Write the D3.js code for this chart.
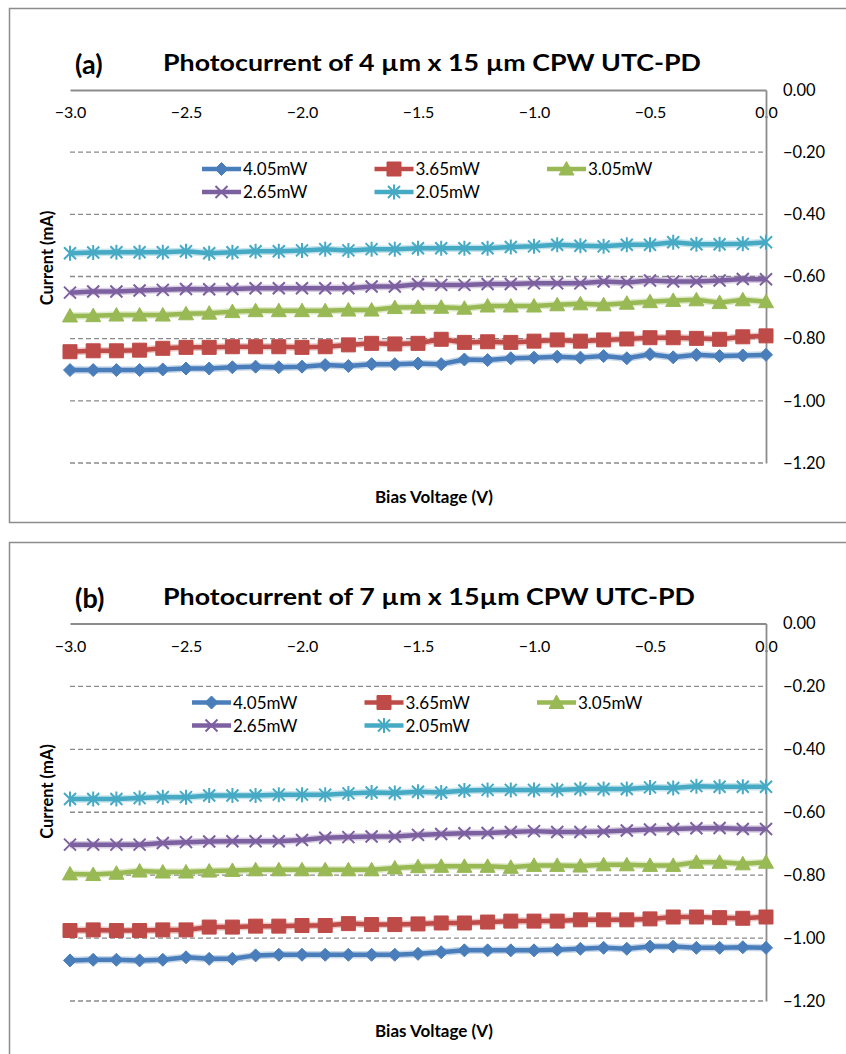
<!DOCTYPE html>
<html>
<head>
<meta charset="utf-8">
<script src="https://cdn.jsdelivr.net/npm/d3@7"></script>
<style>
  html, body { margin: 0; padding: 0; background: #fff; }
  svg { display: block; font-family: Lato, "Open Sans", sans-serif; }
</style>
</head>
<body>
<svg id="chart" width="846" height="1054"></svg>
<script>
// bias voltage steps (V)
const biasV = [-3.0, -2.9, -2.8, -2.7, -2.6, -2.5, -2.4, -2.3, -2.2, -2.1,
  -2.0, -1.9, -1.8, -1.7, -1.6, -1.5, -1.4, -1.3, -1.2, -1.1,
  -1.0, -0.9, -0.8, -0.7, -0.6, -0.5, -0.4, -0.3, -0.2, -0.1, 0.0];

const seriesNames = ["4.05mW", "3.65mW", "3.05mW", "2.65mW", "2.05mW"];
const xTicks = [-3.0, -2.5, -2.0, -1.5, -1.0, -0.5, 0.0];
const yTicks = [0, -0.2, -0.4, -0.6, -0.8, -1.0, -1.2];

// panel (a): 4 um x 15 um
const a405 = [-0.901, -0.901, -0.901, -0.901, -0.899, -0.896, -0.896, -0.892, -0.890, -0.892,
  -0.890, -0.885, -0.888, -0.882, -0.882, -0.880, -0.882, -0.867, -0.869, -0.863,
  -0.861, -0.858, -0.861, -0.856, -0.863, -0.850, -0.860, -0.852, -0.856, -0.854, -0.852];
const a365 = [-0.842, -0.839, -0.839, -0.837, -0.831, -0.828, -0.828, -0.826, -0.826, -0.826,
  -0.828, -0.826, -0.820, -0.815, -0.817, -0.815, -0.802, -0.812, -0.810, -0.812,
  -0.808, -0.804, -0.808, -0.804, -0.801, -0.797, -0.797, -0.799, -0.802, -0.794, -0.791];
const a305 = [-0.727, -0.726, -0.724, -0.724, -0.724, -0.720, -0.718, -0.713, -0.710, -0.710,
  -0.710, -0.710, -0.708, -0.708, -0.700, -0.699, -0.699, -0.702, -0.695, -0.695,
  -0.695, -0.691, -0.688, -0.691, -0.686, -0.681, -0.677, -0.675, -0.684, -0.675, -0.681];
const a265 = [-0.652, -0.648, -0.648, -0.645, -0.643, -0.640, -0.641, -0.640, -0.638, -0.638,
  -0.638, -0.638, -0.638, -0.632, -0.632, -0.625, -0.627, -0.627, -0.624, -0.624,
  -0.622, -0.622, -0.622, -0.616, -0.619, -0.613, -0.616, -0.616, -0.613, -0.608, -0.609];
const a205 = [-0.525, -0.523, -0.522, -0.522, -0.522, -0.519, -0.525, -0.522, -0.519, -0.519,
  -0.516, -0.512, -0.516, -0.512, -0.512, -0.509, -0.509, -0.509, -0.509, -0.505,
  -0.503, -0.498, -0.501, -0.503, -0.498, -0.498, -0.490, -0.496, -0.496, -0.495, -0.490];

// panel (b): 7 um x 15 um
const b405 = [-1.071, -1.069, -1.069, -1.071, -1.069, -1.061, -1.066, -1.066, -1.055, -1.053,
  -1.053, -1.053, -1.053, -1.053, -1.053, -1.050, -1.045, -1.039, -1.039, -1.039,
  -1.039, -1.037, -1.034, -1.031, -1.034, -1.027, -1.027, -1.031, -1.031, -1.029, -1.031];
const b365 = [-0.976, -0.974, -0.976, -0.976, -0.974, -0.974, -0.965, -0.965, -0.962, -0.962,
  -0.960, -0.960, -0.954, -0.957, -0.957, -0.955, -0.952, -0.952, -0.949, -0.946,
  -0.946, -0.946, -0.942, -0.942, -0.942, -0.939, -0.933, -0.933, -0.935, -0.937, -0.933];
const b305 = [-0.796, -0.798, -0.794, -0.787, -0.790, -0.790, -0.787, -0.785, -0.783, -0.783,
  -0.783, -0.783, -0.783, -0.783, -0.777, -0.773, -0.772, -0.772, -0.772, -0.775,
  -0.769, -0.769, -0.771, -0.767, -0.767, -0.769, -0.769, -0.759, -0.759, -0.764, -0.759];
const b265 = [-0.703, -0.703, -0.703, -0.703, -0.698, -0.695, -0.693, -0.692, -0.692, -0.692,
  -0.688, -0.681, -0.679, -0.677, -0.677, -0.672, -0.669, -0.667, -0.666, -0.663,
  -0.660, -0.663, -0.663, -0.661, -0.658, -0.655, -0.653, -0.651, -0.650, -0.653, -0.653];
const b205 = [-0.558, -0.558, -0.558, -0.555, -0.552, -0.552, -0.547, -0.547, -0.547, -0.544,
  -0.544, -0.544, -0.540, -0.537, -0.539, -0.535, -0.537, -0.531, -0.529, -0.529,
  -0.529, -0.529, -0.526, -0.526, -0.526, -0.521, -0.523, -0.517, -0.519, -0.519, -0.519];

const colors = ["#4a7ebb", "#be4b48", "#98b954", "#7d60a0", "#46aac5"];
const markers = ["diamond", "square", "triangle", "cross", "star"];

const svg = d3.select("#chart");

function markerPath(type) {
  switch (type) {
    case "diamond": return "M0,-6.5L6.5,0L0,6.5L-6.5,0Z";
    case "square": return "M-7,-7H7V7H-7Z";
    case "triangle": return "M0,-7.5L7.5,6L-7.5,6Z";
    case "cross": return "M-6,-6L6,6M6,-6L-6,6";
    case "star": return "M-6,-6L6,6M6,-6L-6,6M0,-7.5V7.5";
  }
}

function drawMarker(g, type, color) {
  const filled = type !== "cross" && type !== "star";
  g.append("path")
    .attr("d", markerPath(type))
    .attr("fill", filled ? color : "none")
    .attr("stroke", color)
    .attr("stroke-width", filled ? 1 : 2);
}

function drawPanel(p) {
  const g = svg.append("g");

  // frame
  g.append("rect")
    .attr("x", 9.5).attr("y", p.top + 0.5)
    .attr("width", 860).attr("height", 514)
    .attr("fill", "none").attr("stroke", "#8c8c8c").attr("stroke-width", 1.5);

  const x = d3.scaleLinear().domain([-3, 0]).range([70, 766]);
  const y = d3.scaleLinear().domain([-1.2, 0]).range([p.y0 + p.h, p.y0]);

  // dashed gridlines
  g.append("g").selectAll("line")
    .data(yTicks.filter(d => d !== 0))
    .join("line")
    .attr("x1", 70).attr("x2", 766)
    .attr("y1", d => y(d)).attr("y2", d => y(d))
    .attr("stroke", "#8a8a8a").attr("stroke-width", 1.3)
    .attr("stroke-dasharray", "5,3");

  // x axis along the top (y = 0)
  const xAxis = g.append("g")
    .attr("transform", `translate(0,${y(0)})`)
    .call(d3.axisBottom(x).tickValues(xTicks).tickSize(0).tickPadding(17)
      .tickFormat(d3.format(".1f")));
  xAxis.select(".domain").attr("stroke", "#8c8c8c").attr("stroke-width", 1.8);
  xAxis.selectAll("text").attr("font-size", 16).attr("fill", "#000")
    .attr("font-family", "Lato");

  // y axis at x = 0 (right side)
  const yAxis = g.append("g")
    .attr("transform", `translate(${x(0)},0)`)
    .call(d3.axisRight(y).tickValues(yTicks).tickSize(0).tickPadding(17)
      .tickFormat(d3.format(".2f")));
  yAxis.select(".domain").attr("stroke", "#8c8c8c").attr("stroke-width", 1.8);
  yAxis.selectAll("text").attr("font-size", 16.5).attr("fill", "#000")
    .attr("font-family", "Lato");

  // series
  const line = d3.line().x((d, i) => x(biasV[i])).y(d => y(d));
  p.series.forEach((vals, k) => {
    const sg = g.append("g");
    sg.append("path").datum(vals)
      .attr("d", line).attr("fill", "none")
      .attr("stroke", colors[k]).attr("stroke-opacity", 0.3)
      .attr("stroke-width", 7.5).attr("stroke-linejoin", "round");
    sg.append("path").datum(vals)
      .attr("d", line).attr("fill", "none")
      .attr("stroke", colors[k]).attr("stroke-width", 4.5)
      .attr("stroke-linejoin", "round");
    sg.selectAll("g.pt")
      .data(vals)
      .join("g")
      .attr("class", "pt")
      .attr("transform", (d, i) => `translate(${x(biasV[i])},${y(d)})`)
      .each(function () { drawMarker(d3.select(this), markers[k], colors[k]); });
  });

  // legend
  const lg = g.append("g");
  seriesNames.forEach((name, k) => {
    const col = k % 3, row = Math.floor(k / 3);
    const lx = p.legendX + col * 172.5;
    const ly = p.y0 + 79 + row * 23;
    const item = lg.append("g");
    item.append("line")
      .attr("x1", lx).attr("x2", lx + 39).attr("y1", ly).attr("y2", ly)
      .attr("stroke", colors[k]).attr("stroke-width", 4.5);
    drawMarker(item.append("g").attr("transform", `translate(${lx + 19.5},${ly})`),
      markers[k], colors[k]);
    item.append("text")
      .attr("x", lx + 41).attr("y", ly + 6)
      .attr("font-size", 17).text(name);
  });

  // titles
  g.append("text")
    .attr("x", 75).attr("y", p.top + 66)
    .attr("font-size", 27).attr("font-weight", "bold")
    .text(p.tag);
  g.append("text")
    .attr("x", 163).attr("y", p.top + 63)
    .attr("font-size", 22).attr("font-weight", "bold")
    .attr("textLength", p.titleLen).attr("lengthAdjust", "spacingAndGlyphs")
    .text(p.title);

  g.append("text")
    .attr("transform", `translate(53,${p.y0 + 168}) rotate(-90)`)
    .attr("text-anchor", "middle")
    .attr("font-size", 16.5).attr("font-weight", "bold")
    .text("Current (mA)");

  g.append("text")
    .attr("x", 434).attr("y", p.y0 + 413)
    .attr("text-anchor", "middle")
    .attr("font-size", 17).attr("font-weight", "bold")
    .text("Bias Voltage (V)");
}

drawPanel({
  top: 8, y0: 90, h: 373, legendX: 202, tag: "(a)",
  title: "Photocurrent of 4 \u00b5m x 15 \u00b5m CPW UTC-PD", titleLen: 538,
  series: [a405, a365, a305, a265, a205]
});
drawPanel({
  top: 542, y0: 623.5, h: 377.5, legendX: 192, tag: "(b)",
  title: "Photocurrent of 7 \u00b5m x 15\u00b5m CPW UTC-PD", titleLen: 532,
  series: [b405, b365, b305, b265, b205]
});
</script>
</body>
</html>
